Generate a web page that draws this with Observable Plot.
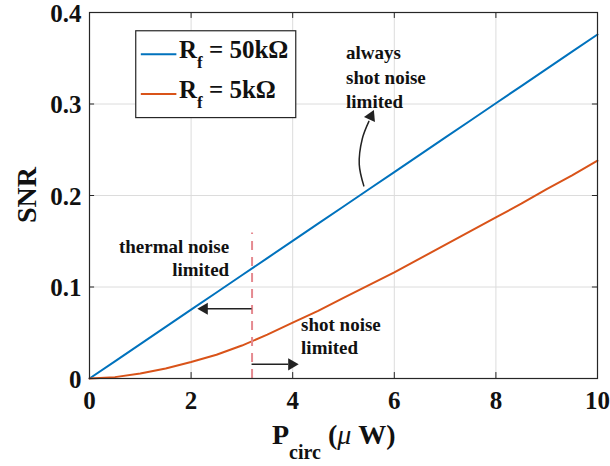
<!DOCTYPE html>
<html><head><meta charset="utf-8">
<script src="https://cdn.jsdelivr.net/npm/d3@7"></script>
<script src="https://cdn.jsdelivr.net/npm/@observablehq/plot@0.6"></script>
<style>body{margin:0;background:#fff;} svg{display:block;}</style>
</head><body><div id="chart"></div>
<script>
const P = [0,0.5,1,1.5,2,2.5,3,3.5,4,4.5,5,5.5,6,6.5,7,7.5,8,8.5,9,9.5,10];
const snr50k = [0,0.0188,0.0376,0.0564,0.0752,0.094,0.1128,0.1316,0.1504,0.1692,0.188,0.2068,0.2256,0.2444,0.2632,0.282,0.3008,0.3196,0.3384,0.3572,0.376];
const snr5k = [0,0.0015,0.0055,0.011,0.018,0.026,0.036,0.048,0.061,0.074,0.088,0.102,0.116,0.131,0.146,0.161,0.176,0.191,0.207,0.222,0.238];
const xTicks = [0,2,4,6,8,10];
const yTicks = [0,0.1,0.2,0.3,0.4];
const seriesNames = ["50k\u03A9","5k\u03A9"];
const seriesColors = ["#0072BD","#D95319"];
// annotation anchors (data units)
const boundaryX = 3.2;
const boundaryTop = 0.159;
const leftArrow = {x1: 3.2, x2: 2.32, y: 0.0763, tip: 2.26};
const rightArrow = {x1: 3.2, x2: 3.92, y: 0.0155, tip: 3.98};
const curvedArrow = [{x:5.40,y:0.2105},{x:5.31,y:0.234},{x:5.37,y:0.262},{x:5.50,y:0.281}];
const curvedTip = {x:5.54, y:0.2865};
const notesStart = [
  {x:5.05, y:0.349, t:"always"},
  {x:5.05, y:0.3217, t:"shot noise"},
  {x:5.05, y:0.2955, t:"limited"},
  {x:4.165, y:0.0523, t:"shot noise"},
  {x:4.165, y:0.0273, t:"limited"}
];
const notesEnd = [
  {x:2.75, y:0.1374, t:"thermal noise"},
  {x:2.75, y:0.1123, t:"limited"}
];
const legendBox = {x1:0.92, x2:4.07, y1:0.2846, y2:0.3795};
const legendRows = [{y:0.3544, ty:0.3495},{y:0.3108, ty:0.3064}];
const legendLine = {x1:1.02, x2:1.72, tx:1.77};

const data50 = P.map((p,i)=>({p, s:snr50k[i]}));
const data5 = P.map((p,i)=>({p, s:snr5k[i]}));
const serif = "Liberation Serif, Tinos, Times New Roman, DejaVu Serif, serif";
const axisColor = "#262626";

const plot = Plot.plot({
  width: 610, height: 466,
  marginLeft: 89, marginRight: 13, marginTop: 12, marginBottom: 88,
  x: {domain:[0,10]},
  y: {domain:[0,0.4]},
  style: {fontFamily: serif, fontWeight: "bold", fontSize: "25px", color: "#262626", background: "#fff"},
  marks: [
    Plot.gridX(xTicks, {stroke:"#dcdcdc", strokeOpacity:1}),
    Plot.gridY(yTicks, {stroke:"#dcdcdc", strokeOpacity:1}),
    Plot.line(data50, {x:"p", y:"s", stroke:seriesColors[0], strokeWidth:2}),
    Plot.line(data5, {x:"p", y:"s", stroke:seriesColors[1], strokeWidth:2}),
    Plot.ruleX([boundaryX], {y1:0, y2:boundaryTop, stroke:"#e58a90", strokeWidth:2, strokeDasharray:"9,7"}),
    Plot.ruleY([leftArrow], {x1:"x1", x2:"x2", y:"y", stroke:"#222", strokeWidth:1.5}),
    Plot.dot([leftArrow], {x:"tip", y:"y", symbol:"triangle", r:4.5, fill:"#222", rotate:-90}),
    Plot.ruleY([rightArrow], {x1:"x1", x2:"x2", y:"y", stroke:"#222", strokeWidth:1.5}),
    Plot.dot([rightArrow], {x:"tip", y:"y", symbol:"triangle", r:4.5, fill:"#222", rotate:90}),
    Plot.line(curvedArrow, {x:"x", y:"y", curve:"catmull-rom", stroke:"#222", strokeWidth:1.5}),
    Plot.dot([curvedTip], {x:"x", y:"y", symbol:"triangle", r:4.5, fill:"#222", rotate:25}),
    Plot.text(notesStart, {x:"x", y:"y", text:"t", textAnchor:"start", lineAnchor:"bottom", fontSize:19, fontWeight:"bold", fill:"#111"}),
    Plot.text(notesEnd, {x:"x", y:"y", text:"t", textAnchor:"end", lineAnchor:"bottom", fontSize:19, fontWeight:"bold", fill:"#111"}),
    Plot.rect([legendBox], {x1:"x1", x2:"x2", y1:"y1", y2:"y2", fill:"#fff", stroke:axisColor, strokeWidth:1.2}),
    Plot.ruleY(legendRows, {y:"y", x1:legendLine.x1, x2:legendLine.x2, stroke:(d,i)=>seriesColors[i], strokeWidth:2}),
    Plot.ruleX(xTicks, {y1:0, y2:0.0065, stroke:axisColor}),
    Plot.ruleX(xTicks, {y1:0.3935, y2:0.4, stroke:axisColor}),
    Plot.ruleY(yTicks, {x1:0, x2:0.1, stroke:axisColor}),
    Plot.ruleY(yTicks, {x1:9.9, x2:10, stroke:axisColor}),
    Plot.frame({stroke:axisColor, strokeWidth:1.2}),
    Plot.axisX(xTicks, {tickSize:0, tickPadding:13, label:null, fill:"#111", tickFormat:d=>String(d)}),
    Plot.axisY(yTicks, {tickSize:0, tickPadding:8, dy:1, label:null, fill:"#111", tickFormat:d=>String(d)})
  ]
});
document.getElementById("chart").appendChild(plot);

const sx = plot.scale("x"), sy = plot.scale("y");
const svg = d3.select(plot);
// legend text with subscripts
legendRows.forEach((r,i)=>{
  const t = svg.append("text").attr("x", sx.apply(legendLine.tx)).attr("y", sy.apply(r.ty))
    .attr("text-anchor","start")
    .attr("font-family", serif).attr("font-weight","bold").attr("font-size",25).attr("fill","#111");
  t.append("tspan").text("R");
  t.append("tspan").attr("font-size",17).attr("dy",10).text("f");
  t.append("tspan").attr("dy",-10).text(" = " + seriesNames[i]);
});
// x label
const xl = svg.append("text").attr("x", 272).attr("y", 444)
  .attr("text-anchor","start").attr("font-family", serif).attr("font-weight","bold").attr("font-size",28).attr("fill","#111");
xl.append("tspan").text("P");
xl.append("tspan").attr("font-size",20).attr("dy",15).text("circ");
xl.append("tspan").attr("dy",-15).text(" (");
xl.append("tspan").attr("font-style","italic").attr("font-weight","normal").text("\u03BC");
xl.append("tspan").text(" W)");
// y label
svg.append("text").attr("transform", `translate(36,${(sy.apply(0)+sy.apply(0.4))/2}) rotate(-90)`)
  .attr("text-anchor","middle").attr("font-family", serif).attr("font-weight","bold").attr("font-size",28).attr("fill","#111").text("SNR");
</script></body></html>
